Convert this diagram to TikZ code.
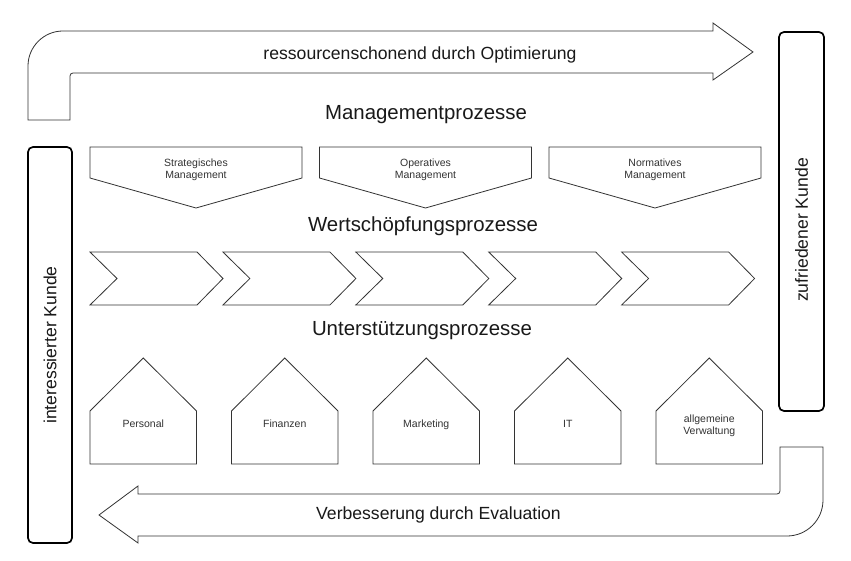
\documentclass[tikz,border=0pt]{standalone}
\usepackage{fontspec}
\setmainfont{Liberation Sans}
\begin{document}
\begin{tikzpicture}[x=1pt,y=-1pt,
  shp/.style={draw=black!80,line width=0.8pt,fill=white,line join=miter},
  sidebox/.style={draw=black,line width=1.7pt,rounded corners=5pt},
  big/.style={font=\fontsize{17.6}{21}\selectfont,text=black!90,inner sep=0pt},
  title/.style={font=\fontsize{20.4}{24}\selectfont,text=black!90,inner sep=0pt},
  small/.style={font=\fontsize{10.5}{12.2}\selectfont,text=black!80,align=center,inner sep=0pt,anchor=base}]
\useasboundingbox[fill=white] (0,0) rectangle (851,561);

% top arrow
\draw[shp] (28,120) -- (28,66) .. controls (28,46.7) and (43.7,31) .. (63,31)
  -- (713,31) -- (713,23) -- (753,52) -- (713,80) -- (713,73) -- (73,73)
  .. controls (71.3,73) and (70,74.3) .. (70,76) -- (70,120) -- cycle;
\node[big] (topt) at (420,55) {ressourcenschonend durch Optimierung};

% bottom arrow
\draw[shp] (99,515) -- (138,486) -- (138,494) -- (777,494)
  .. controls (778.7,494) and (780,492.7) .. (780,491) -- (780,447) -- (823,447)
  -- (823,500) .. controls (823,519.9) and (806.9,536) .. (787,536)
  -- (138,536) -- (138,543) -- cycle;
\node[big] (bott) at (438.5,515) {Verbesserung durch Evaluation};

% side boxes
\draw[sidebox] (28,147) rectangle (72,543);
\node[big,rotate=90] (ik) at (50,345) {interessierter Kunde};
\draw[sidebox] (779,32) rectangle (824,411);
\node[big,rotate=90] (zk) at (801.5,230) {zufriedener Kunde};

% titles
\node[title] (mp) at (426,115) {Managementprozesse};
\node[title] (wp) at (423,226) {Wertschöpfungsprozesse};
\node[title] (up) at (422,331) {Unterstützungsprozesse};

% management pentagons
\foreach \L/\t/\n in {90/{Strategisches\\Management}/m1,319.5/{Operatives\\Management}/m2,549/{Normatives\\Management}/m3}{
  \draw[shp] (\L,147) -- ++(212,0) -- ++(0,31) -- ++(-106,30) -- ++(-106,-30) -- cycle;
  \node[small] (\n) at (\L+106,178.5) {\t};
}

% value chain chevrons
\foreach \i in {0,...,4}{
  \pgfmathsetmacro{\X}{90+\i*132.9}
  \draw[shp] (\X,252) -- ++(107,0) -- ++(26,26.5) -- ++(-26,26.5) -- ++(-107,0) -- ++(27,-26.5) -- cycle;
}

% support houses
\foreach \L/\t/\n/\b in {90/Personal/h1/427.5,231.5/Finanzen/h2/427.5,373/Marketing/h3/427.5,514.5/IT/h4/427.5,656/{allgemeine\\Verwaltung}/h5/434.5}{
  \draw[shp] (\L,411) -- ++(0,53) -- ++(106.5,0) -- ++(0,-53) -- ++(-53.25,-53) -- cycle;
  \node[small] (\n) at (\L+53.25,\b) {\t};
}
\end{tikzpicture}
\end{document}
